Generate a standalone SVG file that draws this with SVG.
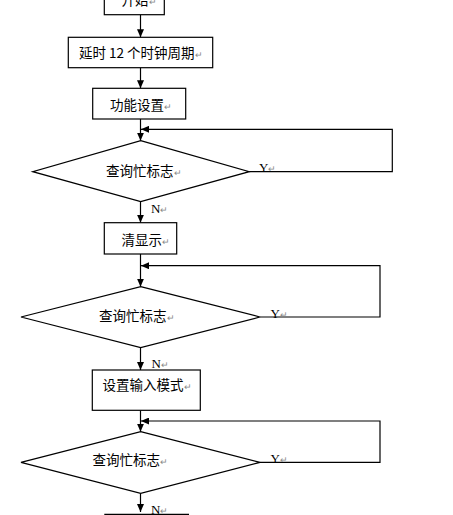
<svg xmlns="http://www.w3.org/2000/svg" width="453" height="515" viewBox="0 0 453 515">
<defs>
<style>
.s{fill:#fff;stroke:#000;stroke-width:1.2}
.c{fill:none;stroke:#000;stroke-width:1.2}
.t{font-family:"Noto Sans CJK SC","Liberation Sans",sans-serif;font-size:13.5px;fill:#000}
.l{font-family:"Liberation Serif",serif;font-size:13px;fill:#000}
.m{fill:#888;font-size:9px}
</style>
<marker id="a" markerUnits="userSpaceOnUse" markerWidth="8" markerHeight="7" refX="8" refY="3.5" orient="auto">
<path d="M0,0 L8,3.5 L0,7 z" fill="#000"/>
</marker>
</defs>
<rect width="453" height="515" fill="#fff"/>
<g id="connectors">
<path class="c" d="M140.5,14.7 V37.3" marker-end="url(#a)"/>
<path class="c" d="M140.5,67.7 V88.3" marker-end="url(#a)"/>
<path class="c" d="M140.5,119 V140.7" marker-end="url(#a)"/>
<path class="c" d="M249.3,171.7 H392.3 V129.3 H141" marker-end="url(#a)"/>
<path class="c" d="M140.5,201.7 V222.7" marker-end="url(#a)"/>
<path class="c" d="M140.5,254 V286.7" marker-end="url(#a)"/>
<path class="c" d="M260,317 H380 V265.7 H141" marker-end="url(#a)"/>
<path class="c" d="M140.5,347.7 V370" marker-end="url(#a)"/>
<path class="c" d="M140.5,410.3 V431.7" marker-end="url(#a)"/>
<path class="c" d="M260,462.3 H380 V421 H141" marker-end="url(#a)"/>
<path class="c" d="M140.5,493.3 V512" marker-end="url(#a)"/>
<path class="c" d="M104.3,514.3 H189"/>
<text class="l" x="259" y="172">Y<tspan class="m">↵</tspan></text>
<text class="l" x="270.5" y="317.5">Y<tspan class="m">↵</tspan></text>
<text class="l" x="270.5" y="462.5">Y<tspan class="m">↵</tspan></text>
<text class="l" x="151" y="213">N<tspan class="m">↵</tspan></text>
<text class="l" x="151.5" y="368">N<tspan class="m">↵</tspan></text>
<text class="l" x="151" y="514">N<tspan class="m">↵</tspan></text>
</g>
<g id="start">
<rect class="s" x="104.3" y="-20" width="60" height="34.7"/>
<text class="t" x="121.5" y="5">开始<tspan class="m">↵</tspan></text>
</g>
<g id="delay">
<rect class="s" x="68.3" y="37.3" width="144.4" height="30.4"/>
<text class="t" x="79" y="58">延时 12 个时钟周期<tspan class="m">↵</tspan></text>
</g>
<g id="funcset">
<rect class="s" x="92.7" y="88.3" width="93" height="30.7"/>
<text class="t" x="110" y="110">功能设置<tspan class="m">↵</tspan></text>
</g>
<g id="busy1">
<polygon class="s" points="140.7,140.7 249.3,171.7 140.7,201.7 32.7,171.7"/>
<text class="t" x="106" y="176">查询忙标志<tspan class="m">↵</tspan></text>
</g>
<g id="clear">
<rect class="s" x="104.3" y="222.7" width="72.4" height="31.3"/>
<text class="t" x="121.5" y="245">清显示<tspan class="m">↵</tspan></text>
</g>
<g id="busy2">
<polygon class="s" points="140.7,286.7 260,317 140.7,347.7 21,317"/>
<text class="t" x="99" y="321">查询忙标志<tspan class="m">↵</tspan></text>
</g>
<g id="inputmode">
<rect class="s" x="92.3" y="370" width="108" height="40.3"/>
<text class="t" x="102.5" y="390">设置输入模式<tspan class="m">↵</tspan></text>
</g>
<g id="busy3">
<polygon class="s" points="140.7,431.7 260,462.3 140.7,493.3 21,462.3"/>
<text class="t" x="92.5" y="465">查询忙标志<tspan class="m">↵</tspan></text>
</g>
</svg>
